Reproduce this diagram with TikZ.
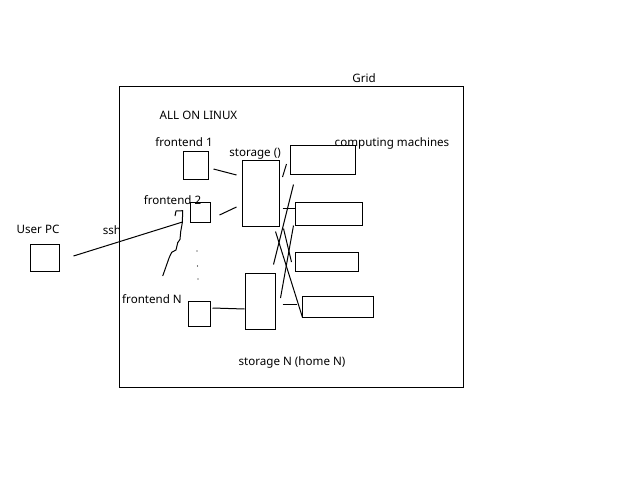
\documentclass[tikz,border=0pt]{standalone}
\usepackage{fontspec}
\setmainfont{Noto Sans}
\usetikzlibrary{positioning}

\tikzset{
  box/.style={draw, line width=1pt, inner sep=0pt, minimum width=#1},
  lbl/.style={inner sep=0pt, yshift=-1.5pt, font=\fontsize{11.6}{13}\selectfont},
  wire/.style={line width=1pt}
}

\begin{document}
\begin{tikzpicture}[x=1pt, y=-1pt]
        \useasboundingbox (0,0) rectangle (640,480);
        \fill[white] (0,0) rectangle (640,480);

        % grid frame
        \node[box=344pt, minimum height=301pt] (grid) at (291,236.5) {};
        \node[lbl] (gridlbl) at (364,77) {Grid};
        \node[lbl] (linux) at (198.5,114) {ALL ON LINUX};

        % frontends
        \node[box=25pt, minimum height=28pt] (fe1) at (195.5,165) {};
        \node[box=20pt, minimum height=20pt] (fe2) at (200,212) {};
        \node[box=22pt, minimum height=25pt] (feN) at (199,313.5) {};
        \node[lbl] (fe1lbl) at (184,141) {frontend 1};
        \node[lbl] (fe2lbl) at (172.5,199) {frontend 2};
        \node[lbl] (feNlbl) at (152,298) {frontend N};
        \fill (197,251) circle (0.7);
        \fill (197.5,266) circle (0.7);
        \fill (198,279) circle (0.7);

        % storages
        \node[box=37pt, minimum height=66pt] (st1) at (260.5,193) {};
        \node[box=30pt, minimum height=56pt] (stN) at (260,301) {};
        \node[lbl] (st1lbl) at (255,152) {storage ()};
        \node[lbl] (stNlbl) at (292,361) {storage N (home N)};

        % computing machines
        \node[box=65pt, minimum height=29pt] (cm1) at (322.5,159.5) {};
        \node[box=67pt, minimum height=23pt] (cm2) at (328.5,213.5) {};
        \node[box=63pt, minimum height=19pt] (cm3) at (326.5,261.5) {};
        \node[box=71pt, minimum height=21pt] (cm4) at (337.5,306.5) {};
        \node[lbl] (cmlbl) at (392,142) {computing machines};

        % user side
        \node[box=29pt, minimum height=27pt] (pc) at (44.5,257.5) {};
        \node[lbl] (pclbl) at (38,228) {User PC};
        \node[lbl] (sshlbl) at (112,229) {ssh};

        % links
        \draw[wire] ([xshift=14pt,yshift=1.5pt]pc.east) -- ([xshift=-7pt,yshift=-10pt]fe2.west);
        \draw[wire] (175,216) -- (176,211) -- (182.7,210.7) -- (182.3,222.7) -- (180.7,231.7)
              -- (180,239.3) -- (177.7,242.7) -- (176,250) -- (171.7,252.3) -- (169.3,257.3) -- (162.7,276);
        \draw[wire] ([xshift=5pt,yshift=-4pt]fe1.east) -- ([xshift=-5pt,yshift=18pt]st1.west);
        \draw[wire] ([xshift=9pt,yshift=-3pt]fe2.east) -- ([xshift=-5pt,yshift=-14pt]st1.west);
        \draw[wire] ([xshift=2pt,yshift=5.5pt]feN.east) -- ([yshift=-8pt]stN.west);

        \draw[wire] ([xshift=3pt,yshift=16pt]st1.east) -- ([xshift=-3pt,yshift=-4.5pt]cm1.west);
        \draw[wire] ([xshift=4pt,yshift=-10pt]cm1.south west) -- ([xshift=-2pt,yshift=8pt]stN.north east);
        \draw[wire] ([xshift=3pt,yshift=-15.5pt]st1.east) -- ([yshift=5pt]cm2.west);
        \draw[wire] ([xshift=-1pt]cm2.south west) -- ([xshift=5pt,yshift=3pt]stN.east);
        \draw[wire] ([xshift=-4pt,yshift=-5pt]st1.south east) -- ([xshift=1pt]cm4.south west);
        \draw[wire] ([xshift=4pt,yshift=-2pt]st1.south east) -- ([xshift=-3pt,yshift=-0.5pt]cm3.west);
        \draw[wire] ([xshift=7pt,yshift=-3.5pt]stN.east) -- ([xshift=-5pt,yshift=2pt]cm4.west);
\end{tikzpicture}
\end{document}
